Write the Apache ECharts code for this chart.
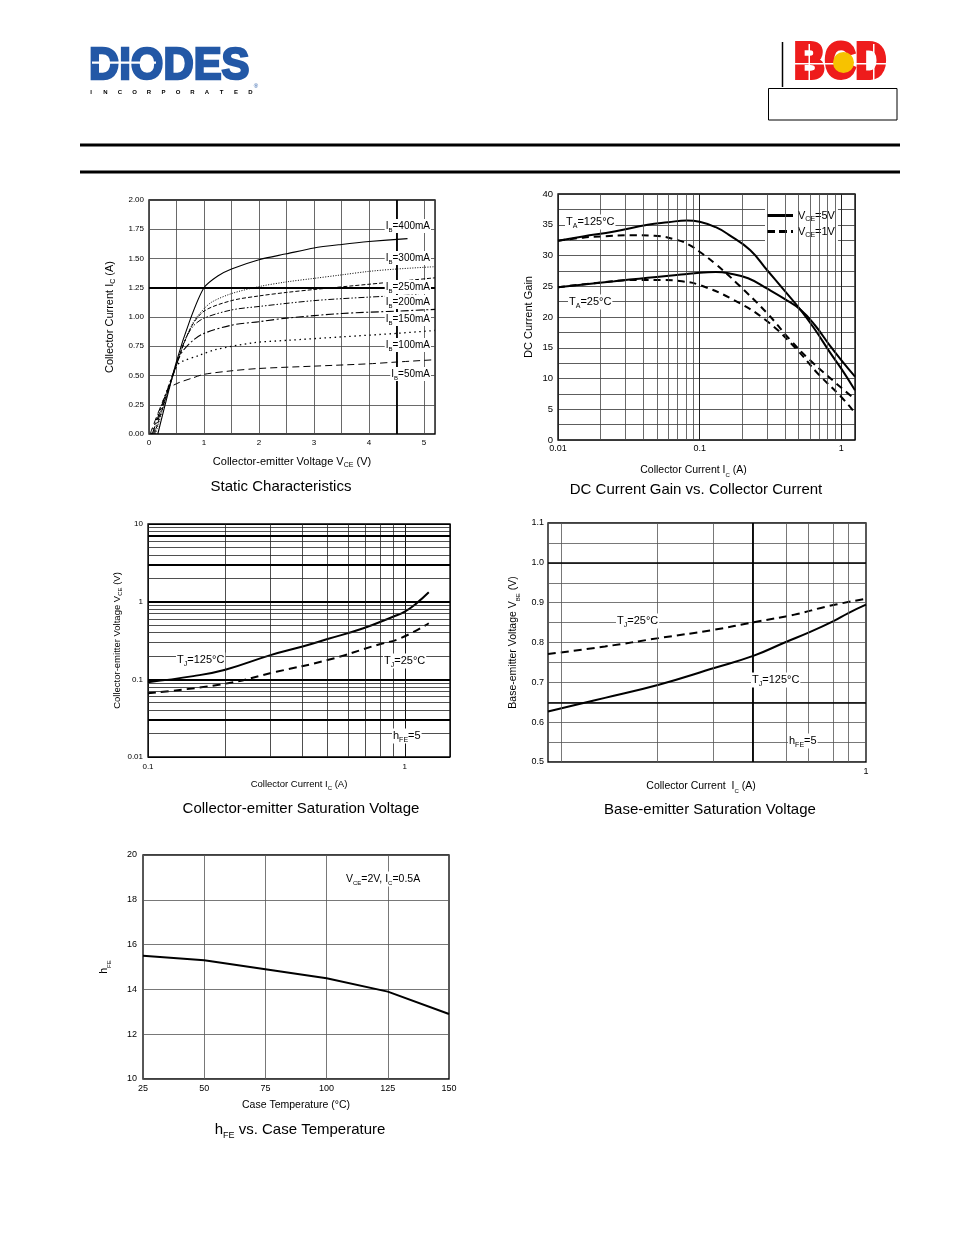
<!DOCTYPE html>
<html><head><meta charset="utf-8">
<script src="https://cdn.jsdelivr.net/npm/echarts@6/dist/echarts.min.js"></script>
<style>html,body{margin:0;padding:0;background:#fff}#c{width:954px;height:1235px}</style>
</head><body><div id="c"></div>
<script>
// ---------- DATA ----------
// Static characteristics: [Vce (V), Ic (A)]
const ib400 = [[0.16,0],[0.5,0.62],[0.75,0.98],[1.0,1.25],[1.25,1.35],[1.5,1.41],[2.0,1.49],[2.5,1.54],[3.0,1.59],[3.5,1.62],[4.0,1.645],[4.7,1.67]];
const ib300 = [[0.12,0],[0.5,0.6],[0.8,0.95],[1.0,1.07],[1.15,1.13],[1.5,1.2],[2.0,1.26],[2.5,1.3],[3.0,1.33],[3.5,1.36],[4.0,1.39],[4.5,1.41],[5.2,1.43]];
const ib250 = [[0.1,0],[0.5,0.59],[0.75,0.9],[1.0,1.05],[1.5,1.14],[2.0,1.18],[2.5,1.21],[3.0,1.235],[4.0,1.28],[5.2,1.335]];
const ib200 = [[0.08,0],[0.5,0.59],[0.65,0.8],[0.8,0.92],[1.0,0.99],[1.5,1.06],[2.0,1.09],[3.0,1.14],[4.0,1.17],[4.9,1.19]];
const ib150 = [[0.06,0],[0.5,0.6],[0.6,0.7],[0.8,0.8],[1.0,0.86],[1.5,0.93],[2.0,0.96],[2.5,0.99],[3.5,1.03],[4.5,1.05],[5.2,1.065]];
const ib100 = [[0.04,0],[0.5,0.58],[0.6,0.62],[0.9,0.67],[1.2,0.72],[1.9,0.78],[2.5,0.8],[3.5,0.83],[4.5,0.86],[5.2,0.885]];
const ib50  = [[0.02,0],[0.35,0.38],[0.5,0.43],[0.8,0.48],[1.0,0.51],[1.5,0.54],[2.0,0.56],[3.0,0.58],[4.0,0.6],[4.5,0.615],[5.2,0.635]];
const staticLabels = ['400mA','300mA','250mA','200mA','150mA','100mA','50mA'];

// DC current gain: [Ic (A), hFE]
const gain125_5V = [[0.01,32.4],[0.015,33.1],[0.025,33.9],[0.043,35.0],[0.06,35.4],[0.081,35.7],[0.1,35.5],[0.13,34.6],[0.16,33.4],[0.227,30.9],[0.3,27.6],[0.4,24.2],[0.514,21.2],[0.65,18.0],[0.834,14.2],[1.0,11.6],[1.25,8.1]];
const gain25_5V  = [[0.01,24.85],[0.025,25.8],[0.043,26.4],[0.074,26.9],[0.1,27.2],[0.13,27.3],[0.16,27.1],[0.22,26.3],[0.3,24.6],[0.4,22.9],[0.514,21.2],[0.65,18.7],[0.834,15.3],[1.0,13.0],[1.25,10.3]];
const gain125_1V = [[0.01,32.4],[0.015,32.9],[0.02,33.1],[0.033,33.3],[0.048,33.2],[0.07,32.5],[0.085,31.7],[0.1,30.6],[0.13,28.6],[0.183,25.5],[0.3,20.6],[0.435,16.3],[0.6,13.0],[0.88,9.6],[1.25,6.6]];
const gain25_1V  = [[0.01,24.85],[0.02,25.6],[0.033,26.0],[0.057,26.0],[0.075,25.8],[0.1,25.2],[0.173,22.8],[0.3,19.3],[0.486,14.7],[0.677,10.9],[1.0,7.0],[1.25,4.4]];

// Collector-emitter saturation voltage: [Ic (A), Vce (V)]
const vceSat125 = [[0.1,0.092],[0.15,0.11],[0.2,0.133],[0.3,0.205],[0.4,0.265],[0.5,0.33],[0.69,0.455],[0.9,0.64],[1.0,0.745],[1.11,0.95],[1.24,1.32]];
const vceSat25  = [[0.1,0.066],[0.2,0.088],[0.316,0.125],[0.5,0.177],[0.78,0.277],[0.96,0.337],[1.24,0.527]];

// Base-emitter saturation voltage: [Ic (A), Vbe (V)]
const vbeSat125 = [[0.1,0.627],[0.151,0.661],[0.223,0.694],[0.333,0.736],[0.444,0.767],[0.555,0.8],[0.665,0.826],[0.787,0.853],[0.88,0.874],[1.0,0.895]];
const vbeSat25  = [[0.1,0.771],[0.151,0.79],[0.223,0.811],[0.333,0.832],[0.444,0.851],[0.596,0.87],[0.758,0.891],[1.0,0.91]];

// hFE vs case temperature
const caseTemp = [25,50,75,100,125,150];
const hfeTemp  = [15.5,15.3,14.9,14.5,13.9,12.9];

// grid-line positions (axis values)
const gainMinorX = [0.02,0.03,0.04,0.05,0.06,0.07,0.08,0.09,0.2,0.3,0.4,0.5,0.6,0.7,0.8,0.9];
const ceMinorX = [0.2,0.3,0.4,0.5,0.6,0.7,0.8,0.9];
const ceMinorY = [0.02,0.03,0.04,0.05,0.06,0.07,0.08,0.09,0.2,0.3,0.4,0.5,0.6,0.7,0.8,0.9,2,3,4,5,6,7,8,9];
const ceThickY = [7,3,1,0.1,0.03];
const beGridX = [0.111,0.223,0.332,0.444,0.555,0.663,0.786,0.88];
const beThickX = [0.444];
const beThickY = [1.0,0.65];

// ---------- HELPERS ----------
const F = '"Liberation Sans", Arial, Helvetica, sans-serif';
function rich(fs){
  const lh = Math.round(fs*1.3)+1;
  return { m:{fontSize:fs, fontFamily:F, color:'#000', lineHeight:lh},
           s:{fontSize:Math.max(5,Math.round(fs*0.6)), fontFamily:F, color:'#000', lineHeight:lh, verticalAlign:'bottom'} };
}
function sub(a,b,c){ return '{m|'+a+'}{s|'+b+'}{m|'+c+'}'; }
function isDecade(v){ const l=Math.log10(v); return Math.abs(l-Math.round(l))<1e-6; }

const gridBase = {show:true, borderColor:'#000', borderWidth:1.3, backgroundColor:'transparent', containLabel:false, outerBoundsMode:'none'};
const grids = [
  Object.assign({left:149, top:200, width:286, height:234}, gridBase),
  Object.assign({left:558, top:194, width:297, height:246}, gridBase),
  Object.assign({left:148, top:524, width:302, height:233}, gridBase),
  Object.assign({left:548, top:523, width:318, height:239}, gridBase),
  Object.assign({left:143, top:855, width:306, height:224}, gridBase)
];

function axisCommon(gi, fs, margin, name, nameFs, gap, pad){
  return {
    gridIndex:gi,
    axisLine:{show:false}, axisTick:{show:false}, minorTick:{show:false},
    axisLabel:{fontFamily:F, fontSize:fs, color:'#000', margin:margin, hideOverlap:false, showMinLabel:true, showMaxLabel:true},
    splitLine:{show:true, lineStyle:{color:'#444', width:0.8, type:'solid'}},
    name:name, nameLocation:'middle', nameGap:gap,
    nameTextStyle:{fontFamily:F, fontSize:nameFs, color:'#000', rich:rich(nameFs), padding:pad||0}
  };
}
function merge(a,b){ const o=Object.assign({},a,b); if(b.axisLabel) o.axisLabel=Object.assign({},a.axisLabel,b.axisLabel); if(b.splitLine) o.splitLine=Object.assign({},a.splitLine,b.splitLine); return o; }

const xAxes = [
  merge(axisCommon(0,8,5,sub('Collector-emitter Voltage V','CE',' (V)'),11,20), {type:'value', min:0, max:5.2, interval:0.5,
    axisLabel:{formatter:v=>Math.abs(v-Math.round(v))<1e-6?String(Math.round(v)):''}}),
  merge(axisCommon(1,9,4,sub('Collector Current I','C',' (A)'),10.5,23,[0,26,0,0]), {type:'log', logBase:10, min:0.01, max:1.25,
    axisLabel:{formatter:v=>isDecade(v)?String(+v.toPrecision(2)):''}, splitLine:{lineStyle:{color:'#222', width:1}}}),
  merge(axisCommon(2,8,6,sub('Collector Current I','C',' (A)'),9.5,21), {type:'log', logBase:10, min:0.1, max:1.5,
    axisLabel:{formatter:v=>isDecade(v)?String(+v.toPrecision(2)):''}, splitLine:{lineStyle:{color:'#111', width:1}}}),
  merge(axisCommon(3,9,5,sub('Collector Current  I','C',' (A)'),10.5,17,[0,12,0,0]), {type:'log', logBase:10, min:0.1, max:1,
    axisLabel:{formatter:v=>Math.abs(v-1)<1e-6?'1':''}, splitLine:{show:false}}),
  merge(axisCommon(4,9,5,'Case Temperature (°C)',10.5,21), {type:'value', min:25, max:150, interval:25,
    splitLine:{lineStyle:{color:'#555', width:0.8}}})
];
const yAxes = [
  merge(axisCommon(0,8,5,sub('Collector Current I','C',' (A)'),11,32), {type:'value', min:0, max:2, interval:0.25,
    axisLabel:{formatter:v=>v.toFixed(2)}}),
  merge(axisCommon(1,9.5,5,'DC Current Gain',11,24), {type:'value', min:0, max:40, interval:2.5,
    axisLabel:{formatter:v=>Math.abs(v/5-Math.round(v/5))<1e-6?String(Math.round(v)):''}, splitLine:{lineStyle:{color:'#333', width:0.8}}}),
  merge(axisCommon(2,8,5,sub('Collector-emitter Voltage V','CE',' (V)'),9.5,21), {type:'log', logBase:10, min:0.01, max:10,
    axisLabel:{formatter:v=>isDecade(v)?String(+v.toPrecision(2)):''}, splitLine:{lineStyle:{color:'#000', width:1.2}}}),
  merge(axisCommon(3,9,4,sub('Base-emitter Voltage V','BE',' (V)'),10.5,27), {type:'value', min:0.5, max:1.1, interval:0.05,
    axisLabel:{formatter:v=>{const r=Math.round(v*100);return r%10===0?(r/100).toFixed(1):'';}}, splitLine:{lineStyle:{color:'#555', width:0.8}}}),
  merge(axisCommon(4,9,6,sub('h','FE',''),10.5,31), {type:'value', min:10, max:20, interval:2,
    splitLine:{lineStyle:{color:'#555', width:0.8}}})
];

function ln(name, data, gi, style, smooth){
  return {type:'line', name:name, data:data, xAxisIndex:gi, yAxisIndex:gi, symbol:'none', showSymbol:false,
    lineStyle:Object.assign({color:'#000', width:1, type:'solid'}, style), itemStyle:{color:'#000'},
    smooth:smooth===undefined?0.45:smooth, silent:true, animation:false, z:3, emphasis:{disabled:true}};
}
function gridLines(gi, xs, ys){
  const d = [];
  xs.forEach(o=>d.push({xAxis:o.v, lineStyle:Object.assign({type:'solid'}, o.s)}));
  ys.forEach(o=>d.push({yAxis:o.v, lineStyle:Object.assign({type:'solid'}, o.s)}));
  return {type:'line', data:[], xAxisIndex:gi, yAxisIndex:gi, z:1, silent:true, symbol:'none',
    markLine:{silent:true, symbol:['none','none'], animation:false, label:{show:false}, emphasis:{disabled:true},
      lineStyle:{type:'solid'}, data:d}};
}
const thin = (c,w)=>({color:c, width:w});

const series = [
  // chart 1
  gridLines(0, [{v:4.5, s:thin('#000',1.8)}], [{v:1.25, s:thin('#000',1.8)}]),
  ln('IB=400mA', ib400, 0, {width:1.1}, 0.25),
  ln('IB=300mA', ib300, 0, {width:1, type:[1,1.5]}, 0.3),
  ln('IB=250mA', ib250, 0, {width:1, type:[4,2]}, 0.3),
  ln('IB=200mA', ib200, 0, {width:1, type:[6,2,1.5,2,1.5,2]}, 0.3),
  ln('IB=150mA', ib150, 0, {width:1.1, type:[8,2.5,2,2.5]}, 0.3),
  ln('IB=100mA', ib100, 0, {width:1.3, type:[1.5,3.5]}, 0.3),
  ln('IB=50mA',  ib50,  0, {width:1, type:[7,4]}, 0.3),
  // chart 2
  gridLines(1, gainMinorX.map(v=>({v:v, s:thin('#444',0.8)})), []),
  ln('VCE=5V', gain125_5V, 1, {width:2}),
  ln('VCE=5V', gain25_5V, 1, {width:2}),
  ln('VCE=1V', gain125_1V, 1, {width:2, type:[7,5]}),
  ln('VCE=1V', gain25_1V, 1, {width:2, type:[7,5]}),
  // chart 3
  gridLines(2, ceMinorX.map(v=>({v:v, s:thin('#222',0.8)})),
    ceMinorY.map(v=>({v:v, s:thin('#222',0.8)})).concat(ceThickY.map(v=>({v:v, s:thin('#000',1.8)})))),
  ln('TJ=125°C', vceSat125, 2, {width:2}),
  ln('TJ=25°C', vceSat25, 2, {width:2, type:[8,5]}),
  // chart 4
  gridLines(3, beGridX.map(v=>({v:v, s:thin('#555',0.8)})).concat(beThickX.map(v=>({v:v, s:thin('#000',1.8)}))),
    beThickY.map(v=>({v:v, s:thin('#000',1.6)}))),
  ln('TJ=125°C', vbeSat125, 3, {width:2}),
  ln('TJ=25°C', vbeSat25, 3, {width:2, type:[8,5]}),
  // chart 5
  ln('hFE', caseTemp.map((t,i)=>[t,hfeTemp[i]]), 4, {width:2}, false)
];

// ---------- TEXT / DECORATION ----------
function txt(x, y, text, fs, opts){
  return {type:'text', x:x, y:y, z:100, silent:true,
    style:Object.assign({text:text, rich:rich(fs), font:fs+'px '+F, fill:'#000',
      align:'left', textAlign:'left', verticalAlign:'middle', textVerticalAlign:'middle'}, opts||{})};
}
const wbg = {backgroundColor:'#fff', padding:[0,1,0,1]};
const graphics = [];
// header: DIODES logo
graphics.push({type:'text', x:89, y:67, scaleX:0.93, z:10, silent:true,
  style:{text:'DIODES', font:'bold 45px '+F, fill:'#2358a6', stroke:'#2358a6', lineWidth:2.5,
    align:'left', textAlign:'left', verticalAlign:'middle', textVerticalAlign:'middle'}});
graphics.push({type:'rect', z:11, silent:true, shape:{x:92, y:61.5, width:64, height:2.2}, style:{fill:'#fff'}});
'INCORPORATED'.split('').forEach((ch,i)=>{
  graphics.push({type:'text', x:91+i*14.5, y:92, z:10, silent:true,
    style:{text:ch, font:'bold 6px '+F, fill:'#000', align:'center', textAlign:'center', verticalAlign:'middle', textVerticalAlign:'middle'}});
});
graphics.push({type:'text', x:256, y:86, z:10, silent:true, style:{text:'®', font:'6px '+F, fill:'#2358a6', align:'center', textAlign:'center', verticalAlign:'middle', textVerticalAlign:'middle'}});
// BCD logo
graphics.push({type:'line', z:10, silent:true, shape:{x1:782.5, y1:42, x2:782.5, y2:87}, style:{stroke:'#000', lineWidth:1.5}});
graphics.push({type:'text', x:794, y:64, scaleX:0.85, z:10, silent:true,
  style:{text:'BCD', font:'bold 50px '+F, fill:'#ee1c1c', stroke:'#ee1c1c', lineWidth:4,
    align:'left', textAlign:'left', verticalAlign:'middle', textVerticalAlign:'middle'}});
graphics.push({type:'rect', z:11, silent:true, shape:{x:792, y:63, width:99, height:1.5}, style:{fill:'#fff'}});
[808.5, 873].forEach(x=>graphics.push({type:'rect', z:11, silent:true, shape:{x:x, y:44, width:1.5, height:40}, style:{fill:'#fff'}}));
graphics.push({type:'circle', z:12, silent:true, shape:{cx:843.5, cy:62.5, r:10.5}, style:{fill:'#f7c200'}});
graphics.push({type:'rect', z:10, silent:true, shape:{x:768.5, y:88.5, width:128.5, height:31.5}, style:{fill:'none', stroke:'#000', lineWidth:1}});
// rules
graphics.push({type:'rect', z:10, silent:true, shape:{x:80, y:143.5, width:820, height:3}, style:{fill:'#000'}});
graphics.push({type:'rect', z:10, silent:true, shape:{x:80, y:170.5, width:820, height:3}, style:{fill:'#000'}});

// chart 1 curve labels (right aligned)
const staticLabelY = [226, 258, 287, 302, 319, 345, 374];
staticLabels.forEach((l,i)=>graphics.push(txt(431, staticLabelY[i], sub('I','B','='+l), 10, Object.assign({align:'right', textAlign:'right'}, wbg))));
// chart 2 labels
graphics.push(txt(565, 222, sub('T','A','=125°C'), 11, wbg));
graphics.push(txt(568, 302, sub('T','A','=25°C'), 11, wbg));
// chart 3
graphics.push(txt(176, 660, sub('T','J','=125°C'), 11, wbg));
graphics.push(txt(383, 661, sub('T','J','=25°C'), 11, wbg));
graphics.push(txt(392, 736, sub('h','FE','=5'), 11, wbg));
// chart 4
graphics.push(txt(616, 621, sub('T','J','=25°C'), 11, wbg));
graphics.push(txt(751, 680, sub('T','J','=125°C'), 11, wbg));
graphics.push(txt(788, 741, sub('h','FE','=5'), 11, wbg));
// chart 5
graphics.push(txt(345, 879, '{m|V}{s|CE}{m|=2V, I}{s|C}{m|=0.5A}', 10.5, wbg));
// titles
const titleOpts = {align:'center', textAlign:'center'};
graphics.push(txt(281, 487, 'Static Characteristics', 15, titleOpts));
graphics.push(txt(696, 490, 'DC Current Gain vs. Collector Current', 15, titleOpts));
graphics.push(txt(301, 809, 'Collector-emitter Saturation Voltage', 15, titleOpts));
graphics.push(txt(710, 810, 'Base-emitter Saturation Voltage', 15, titleOpts));
graphics.push(txt(300, 1130, sub('h','FE',' vs. Case Temperature'), 15, titleOpts));

const solidIcon = 'path://M0,0H26V3H0Z';
const dashIcon = 'path://M0,0H8V3H0ZM12,0H20V3H12ZM24,0H26V3H24Z';
const option = {
  backgroundColor:'#fff',
  animation:false,
  textStyle:{fontFamily:F},
  grid:grids,
  xAxis:xAxes,
  yAxis:yAxes,
  legend:{
    data:[{name:'VCE=5V', icon:solidIcon, itemStyle:{color:'#000'}},{name:'VCE=1V', icon:dashIcon, itemStyle:{color:'#000'}}],
    orient:'vertical', left:765, top:208, itemWidth:26, itemHeight:3, itemGap:3,
    selectedMode:false, backgroundColor:'#fff', padding:[2,3,2,2],
    formatter:n=>n==='VCE=5V'?sub('V','CE','=5V'):sub('V','CE','=1V'),
    textStyle:{fontFamily:F, fontSize:11, color:'#000', rich:rich(11)}
  },
  series:series,
  graphic:graphics
};
const chart = echarts.init(document.getElementById('c'), null, {renderer:'canvas', width:954, height:1235});
chart.setOption(option);
</script>
</body></html>
